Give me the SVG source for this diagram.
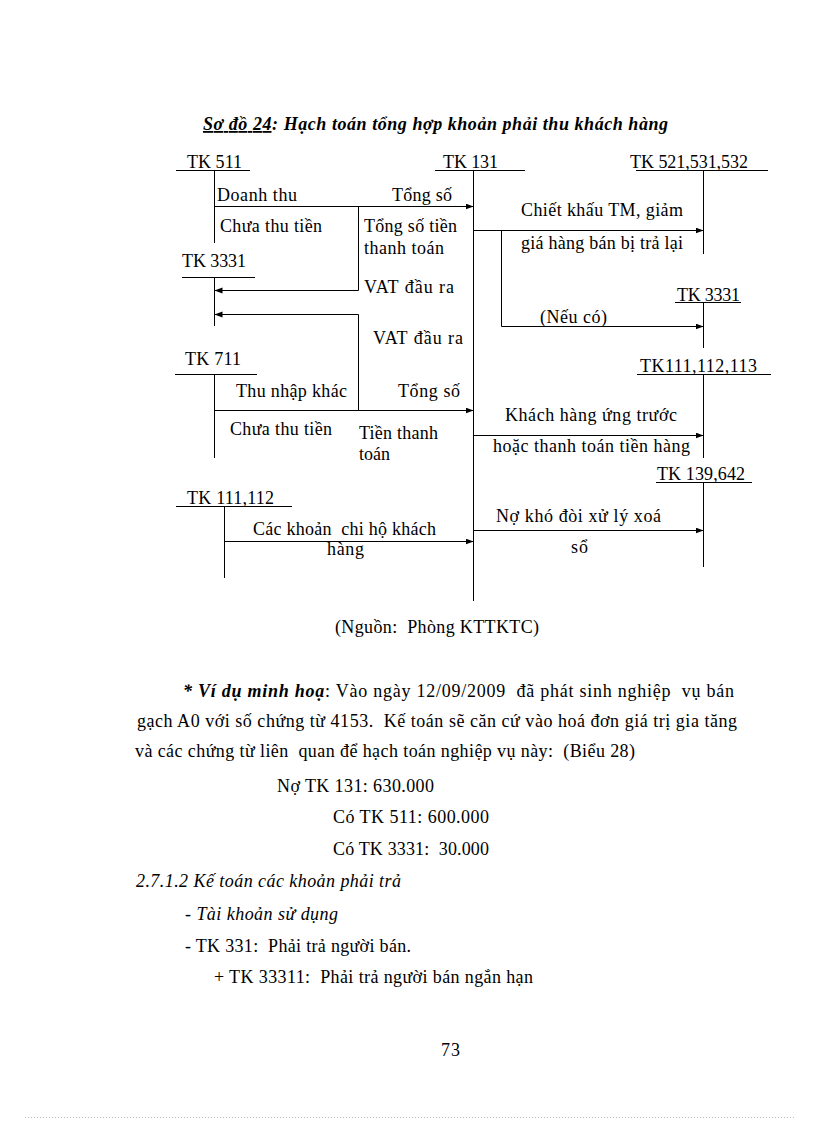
<svg xmlns="http://www.w3.org/2000/svg" width="816" height="1123" viewBox="0 0 816 1123">
<style>
text{font-family:"Liberation Serif","Times New Roman",serif;font-size:18px;fill:#000}
.ttl{font-weight:bold;font-style:italic}
.it{font-style:italic}
.acc{stroke:#000;stroke-width:1;fill:none}
.con{stroke:#000;stroke-width:1;fill:none;marker-end:url(#arr)}
</style>
<defs>
<marker id="arr" markerUnits="userSpaceOnUse" markerWidth="9" markerHeight="7" refX="8" refY="3" orient="auto">
<path d="M0,0 L8,3 L0,6 z" fill="#000"/>
</marker>
</defs>
<rect width="816" height="1123" fill="#fff"/>

<text class="ttl" x="203" y="130" textLength="465"><tspan text-decoration="underline">Sơ đồ 24</tspan>: Hạch toán tổng hợp khoản phải thu khách hàng</text>

<g id="tk511">
<text x="187" y="168" textLength="55">TK 511</text>
<path class="acc" d="M176,170.5 H250 M214.5,170.5 V243"/>
</g>
<g id="tk3331-left">
<text x="182" y="267" textLength="64">TK 3331</text>
<path class="acc" d="M182,277.5 H255 M214.5,277.5 V326"/>
</g>
<g id="tk711">
<text x="185" y="365" textLength="56">TK 711</text>
<path class="acc" d="M175,374.5 H257 M214.5,374.5 V458"/>
</g>
<g id="tk111-112">
<text x="187" y="504" textLength="87">TK 111,112</text>
<path class="acc" d="M176,506.5 H292 M224.5,506.5 V578"/>
</g>
<g id="tk131">
<text x="443" y="168" textLength="55">TK 131</text>
<path class="acc" d="M435,170.5 H525 M473.5,170.5 V601"/>
</g>
<g id="tk521">
<text x="630" y="168" textLength="118">TK 521,531,532</text>
<path class="acc" d="M636,170.5 H768 M703.5,170.5 V254"/>
</g>
<g id="tk3331-right">
<text x="677" y="300.5" textLength="63">TK 3331</text>
<path class="acc" d="M675,302.5 H741 M703.5,302.5 V348"/>
</g>
<g id="tk111-112-113">
<text x="640" y="371.5" textLength="117">TK111,112,113</text>
<path class="acc" d="M637,374.5 H771 M703.5,374.5 V458"/>
</g>
<g id="tk139-642">
<text x="657" y="480" textLength="88">TK 139,642</text>
<path class="acc" d="M656,482.5 H752 M703.5,482.5 V567"/>
</g>

<g id="connectors">
<path class="con" d="M214.5,206.5 H473.5"/>
<path class="con" d="M358.5,206.5 V290.5 H214.5"/>
<path class="con" d="M358.5,410.5 V314.5 H214.5"/>
<path class="con" d="M214.5,410.5 H473.5"/>
<path class="con" d="M224.5,541.5 H473.5"/>
<path class="con" d="M473.5,230.5 H703.5"/>
<path class="con" d="M501.5,230.5 V326.5 H703.5"/>
<path class="con" d="M473.5,435.5 H703.5"/>
<path class="con" d="M473.5,530.5 H703.5"/>
</g>

<g id="labels">
<text x="217" y="200.5" textLength="80">Doanh thu</text>
<text x="392" y="200.5" textLength="60">Tổng số</text>
<text x="220" y="231.5" textLength="102">Chưa thu tiền</text>
<text x="364" y="231.5" textLength="93">Tổng số tiền</text>
<text x="364" y="253.5" textLength="80">thanh toán</text>
<text x="364" y="292.5" textLength="90">VAT đầu ra</text>
<text x="521" y="216" textLength="162">Chiết khấu TM, giảm</text>
<text x="521" y="248.5" textLength="162">giá hàng bán bị trả lại</text>
<text x="540" y="322.5" textLength="67">(Nếu có)</text>
<text x="373" y="343.5" textLength="90">VAT đầu ra</text>
<text x="236" y="396.5" textLength="111">Thu nhập khác</text>
<text x="398" y="396.5" textLength="62">Tổng số</text>
<text x="230" y="435" textLength="102">Chưa thu tiền</text>
<text x="359" y="438.5" textLength="79">Tiền thanh</text>
<text x="359" y="459.5" textLength="31">toán</text>
<text x="505" y="421" textLength="172">Khách hàng ứng trước</text>
<text x="493" y="451.5" textLength="197">hoặc thanh toán tiền hàng</text>
<text x="496" y="521.5" textLength="165">Nợ khó đòi xử lý xoá</text>
<text x="571" y="553" textLength="17">sổ</text>
<text x="253" y="535" textLength="183" xml:space="preserve">Các khoản  chi hộ khách</text>
<text x="327" y="555" textLength="37">hàng</text>
</g>

<text x="335" y="633" textLength="204" xml:space="preserve">(Nguồn:  Phòng KTTKTC)</text>

<text x="183" y="697" textLength="551" xml:space="preserve"><tspan class="ttl">* Ví dụ minh hoạ</tspan>: Vào ngày 12/09/2009  đã phát sinh nghiệp  vụ bán</text>
<text x="137" y="727" textLength="600" xml:space="preserve">gạch A0 với số chứng từ 4153.  Kế toán sẽ căn cứ vào hoá đơn giá trị gia tăng</text>
<text x="135" y="757" textLength="500" xml:space="preserve">và các chứng từ liên  quan để hạch toán nghiệp vụ này:  (Biểu 28)</text>
<text x="277" y="791.5" textLength="157">Nợ TK 131: 630.000</text>
<text x="333" y="823" textLength="156">Có TK 511: 600.000</text>
<text x="333" y="855" textLength="156" xml:space="preserve">Có TK 3331:  30.000</text>
<text class="it" x="136" y="886.5" textLength="265">2.7.1.2 Kế toán các khoản phải trả</text>
<text class="it" x="185" y="920" textLength="153">- Tài khoản sử dụng</text>
<text x="185" y="951.5" textLength="226" xml:space="preserve">- TK 331:  Phải trả người bán.</text>
<text x="214" y="983" textLength="319" xml:space="preserve">+ TK 33311:  Phải trả người bán ngắn hạn</text>
<text x="441" y="1056" textLength="19">73</text>
<line x1="25" y1="1117.5" x2="795" y2="1117.5" stroke="#bbb" stroke-width="1" stroke-dasharray="1,2"/>
</svg>
